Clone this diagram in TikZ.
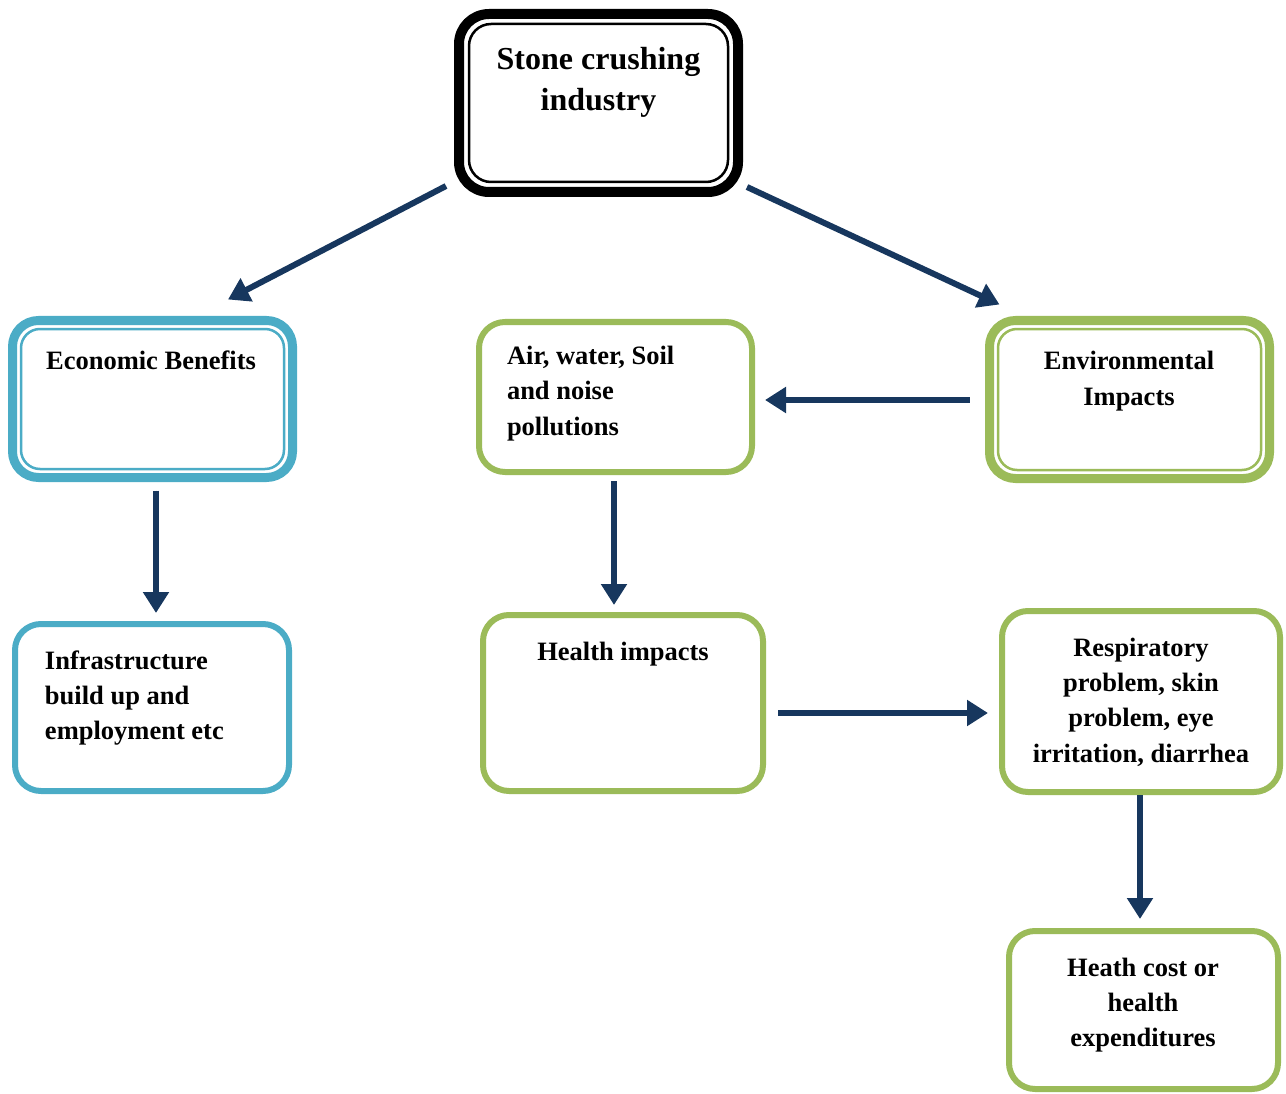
\documentclass[tikz,border=0pt]{standalone}
\usepackage{fontspec}
\setmainfont{Liberation Serif}
\usetikzlibrary{arrows.meta,calc}
\definecolor{cyanb}{HTML}{4BACC6}
\definecolor{greenb}{HTML}{9BBB59}
\definecolor{navy}{HTML}{17375E}
\tikzset{
  box/.style={draw, rectangle, rounded corners=26pt, outer sep=0pt, inner sep=0pt, fill=white},
  single/.style={box, line width=6pt},
  thick box/.style={box, line width=9pt},
  txt/.style={inner sep=0pt, outer sep=0pt, font=\bfseries\fontsize{26.5}{35.2}\selectfont, anchor=base},
  arr/.style={draw=navy, line width=6pt, -{Triangle[length=21pt,width=25pt]}, fill=navy},
}
\newcommand{\innerline}[4]{%
  \draw[#2, line width=2.5pt, rounded corners=#3]
    ($(#1.north west)+(#4,#4)$) rectangle ($(#1.south east)+(-#4,-#4)$);}
\begin{document}
\begin{tikzpicture}[x=1pt,y=-1pt]
\useasboundingbox (0,0) rectangle (1286,1094);

% boxes
\node[box, line width=10pt, draw=black, minimum width=279pt, minimum height=178pt, rounded corners=30pt] (top) at (598.5,103) {};
\innerline{top}{black}{22pt}{10}
\node[thick box, draw=cyanb, minimum width=280pt, minimum height=157pt] (eco) at (152.5,399) {};
\innerline{eco}{cyanb}{19pt}{8.5}
\node[thick box, draw=greenb, minimum width=280pt, minimum height=158pt] (env) at (1129.5,399.5) {};
\innerline{env}{greenb}{19pt}{8.5}
\node[single, draw=greenb, minimum width=273pt, minimum height=150pt] (air) at (615.5,397) {};
\node[single, draw=cyanb, minimum width=274pt, minimum height=167pt] (infra) at (152,707.5) {};
\node[single, draw=greenb, minimum width=280pt, minimum height=176pt] (health) at (623,703) {};
\node[single, draw=greenb, minimum width=278pt, minimum height=181pt] (resp) at (1141,701.5) {};
\node[single, draw=greenb, minimum width=269pt, minimum height=158pt] (cost) at (1143.5,1010) {};

% texts (anchor base = baseline of the last line)
\node[txt, font=\bfseries\fontsize{32}{41}\selectfont, align=center] (toptxt) at (598.5,111) {Stone crushing\\industry};
\node[txt, align=center] (ecotxt) at (151,369) {Economic Benefits};
\node[txt, align=center] (envtxt) at (1129,405) {Environmental\\Impacts};
\node[txt, align=left, anchor=base west] (airtxt) at (507,435) {Air, water, Soil\\and noise\\pollutions};
\node[txt, align=left, anchor=base west] (infratxt) at (45,739.5) {Infrastructure\\build up and\\employment etc};
\node[txt, align=center] (healthtxt) at (623,660.5) {Health impacts};
\node[txt, align=center] (resptxt) at (1141,762) {Respiratory\\problem, skin\\problem, eye\\irritation, diarrhea};
\node[txt, align=center] (costtxt) at (1143,1046.5) {Heath cost or\\health\\expenditures};

% arrows
\draw[arr] ($(top.south west)+(-13,-6)$) -- ($(eco.north)+(75.5,-21)$);
\draw[arr] ($(top.south east)+(9,-5)$) -- ($(env.north west)+(10,-16)$);
\draw[arr] ($(env.west)+(-20,0.5)$) -- ($(air.east)+(13,3)$);
\draw[arr] ($(eco.south)+(3.5,13)$) -- ($(infra.north)+(4,-11)$);
\draw[arr] ($(air.south)+(-1.5,9)$) -- ($(health.north)+(-9,-10)$);
\draw[arr] ($(health.east)+(15,10)$) -- ($(resp.west)+(-14,11.5)$);
\draw[arr] ($(resp.south)+(-1,3)$) -- ($(cost.north)+(-3.5,-12)$);
\end{tikzpicture}
\end{document}
